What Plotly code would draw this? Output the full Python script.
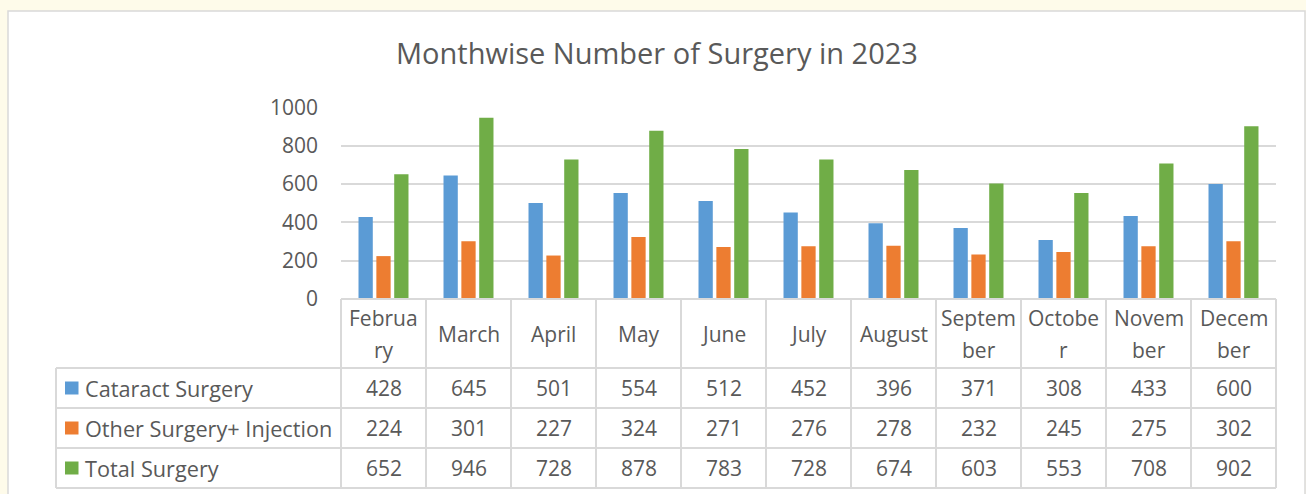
import plotly.graph_objects as go

# ---- data ----
months = ["February", "March", "April", "May", "June", "July", "August",
          "September", "October", "November", "December"]
month_labels = ["Februa|ry", "March", "April", "May", "June", "July", "August",
                "Septem|ber", "Octobe|r", "Novem|ber", "Decem|ber"]
series_names = ["Cataract Surgery", "Other Surgery+ Injection", "Total Surgery"]
cataract = [428, 645, 501, 554, 512, 452, 396, 371, 308, 433, 600]
other = [224, 301, 227, 324, 271, 276, 278, 232, 245, 275, 302]
total = [652, 946, 728, 878, 783, 728, 674, 603, 553, 708, 902]
y_ticks = [0, 200, 400, 600, 800, 1000]
title_text = "Monthwise Number of Surgery in 2023"

colors = ["#5B9BD5", "#ED7D31", "#70AD47"]
series_values = [cataract, other, total]

W, H = 1306, 494
FONT = "Open Sans"
TXT = "#595959"
GRID = "#D9D9D9"
FS = 21

def px(x):
    return x / W

def py(y):
    return 1 - y / H

x0_plot, x1_plot = 341, 1276
y_top, y_zero = 107.5, 299
n = len(months)
col_w = (x1_plot - x0_plot) / n

fig = go.Figure()
for name, vals, c in zip(series_names, series_values, colors):
    fig.add_trace(go.Bar(x=list(range(n)), y=vals, name=name, marker_color=c,
                         marker_line_width=0, showlegend=False))

shapes = []
shapes.append(dict(type="rect", xref="paper", yref="paper", x0=px(8), x1=px(1305),
                   y0=py(500), y1=py(11), fillcolor="white",
                   line=dict(color="#D9D9D9", width=1.5), layer="below"))

row_lines = [368, 408, 448, 488]
header_top = y_zero
table_left = 56
line_style = dict(color=GRID, width=2)
shapes.append(dict(type="line", xref="paper", yref="paper", x0=px(x0_plot), x1=px(x1_plot),
                   y0=py(header_top), y1=py(header_top), line=line_style))
for yl in row_lines:
    shapes.append(dict(type="line", xref="paper", yref="paper", x0=px(table_left), x1=px(x1_plot),
                       y0=py(yl), y1=py(yl), line=line_style))
for i in range(n + 1):
    xl = x0_plot + i * col_w
    shapes.append(dict(type="line", xref="paper", yref="paper", x0=px(xl), x1=px(xl),
                       y0=py(header_top), y1=py(row_lines[-1]), line=line_style))
shapes.append(dict(type="line", xref="paper", yref="paper", x0=px(table_left), x1=px(table_left),
                   y0=py(row_lines[0]), y1=py(row_lines[-1]), line=line_style))

annotations = []
annotations.append(dict(text=title_text, xref="paper", yref="paper", x=px(657), y=py(53),
                        showarrow=False, font=dict(family=FONT, size=29, color=TXT),
                        xanchor="center", yanchor="middle"))
for i, lab in enumerate(month_labels):
    parts = lab.split("|")
    ys = [333.5] if len(parts) == 1 else [318, 350]
    for part, yy in zip(parts, ys):
        annotations.append(dict(text=part, xref="x", yref="paper", x=i, y=py(yy),
                                showarrow=False, font=dict(family=FONT, size=FS, color=TXT),
                                xanchor="center", yanchor="middle"))
for r, (name, vals, c) in enumerate(zip(series_names, series_values, colors)):
    yc = (row_lines[r] + row_lines[r + 1]) / 2
    shapes.append(dict(type="rect", xref="paper", yref="paper", x0=px(65), x1=px(78.5),
                       y0=py(yc + 6.5), y1=py(yc - 6.5), fillcolor=c, line=dict(width=0)))
    annotations.append(dict(text=name, xref="paper", yref="paper", x=px(83), y=py(yc),
                            showarrow=False, font=dict(family=FONT, size=21.7, color=TXT),
                            xanchor="left", yanchor="middle"))
    for i, v in enumerate(vals):
        annotations.append(dict(text=str(v), xref="x", yref="paper", x=i, y=py(yc),
                                showarrow=False, font=dict(family=FONT, size=FS, color=TXT),
                                xanchor="center", yanchor="middle"))

fig.update_layout(
    width=W, height=H, autosize=False,
    margin=dict(l=0, r=0, t=0, b=0, pad=0, autoexpand=False),
    paper_bgcolor="#FEFBEA",
    plot_bgcolor="rgba(0,0,0,0)",
    showlegend=False,
    barmode="group", bargap=0.37, bargroupgap=0.2,
    shapes=shapes, annotations=annotations,
    xaxis=dict(domain=[px(x0_plot), px(x1_plot)], range=[-0.5, n - 0.5], automargin=False,
               showticklabels=False, showgrid=False, zeroline=False, showline=False,
               ticks=""),
    yaxis=dict(domain=[py(y_zero), py(y_top)], range=[0, 1000], tickvals=y_ticks,
               automargin=False,
               showgrid=True, gridcolor=GRID, gridwidth=1.5, zeroline=False,
               showline=False, ticks="", ticklabelstandoff=22,
               tickfont=dict(family=FONT, size=FS, color=TXT)),
)

fig.write_html("out.html",
               config={"displayModeBar": False},
               post_script="document.body.style.margin='0';document.body.style.overflow='hidden';")
